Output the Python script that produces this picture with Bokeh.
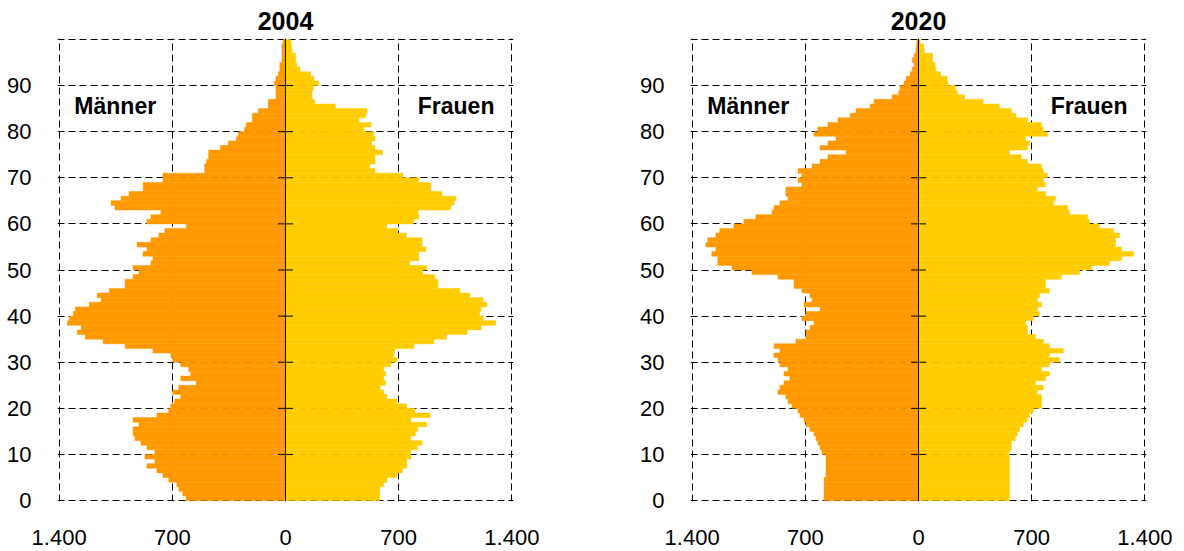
from bokeh.plotting import figure
from bokeh.layouts import row
from bokeh.models import FixedTicker, Span
from bokeh.core.properties import value
from bokeh.embed import file_html
from bokeh.resources import INLINE

ages = list(range(100))

men_2004 = [615, 635, 660, 672, 722, 758, 795, 857, 808, 869,
            808, 857, 894, 931, 943, 943, 906, 943, 795, 722,
            709, 685, 648, 697, 660, 552, 648, 586, 599, 648,
            697, 709, 820, 992, 1128, 1238, 1287, 1263, 1349, 1337,
            1312, 1300, 1214, 1140, 1164, 1090, 992, 992, 943, 906,
            943, 832, 820, 881, 857, 918, 832, 783, 746, 613,
            857, 832, 771, 1054, 1078, 1017, 968, 880, 880, 758,
            758, 500, 500, 488, 475, 475, 402, 353, 303, 291,
            254, 242, 205, 205, 168, 107, 107, 59, 59, 59,
            70, 59, 45, 35, 35, 22, 22, 22, 22, 15]

women_2004 = [582, 582, 582, 607, 627, 689, 722, 750, 750, 775,
              775, 816, 845, 775, 804, 816, 873, 775, 894, 800,
              750, 689, 627, 607, 586, 619, 607, 619, 607, 652,
              689, 668, 676, 795, 918, 996, 1123, 1210, 1300, 1222,
              1201, 1210, 1246, 1222, 1140, 1078, 943, 943, 922, 849,
              873, 767, 824, 824, 869, 845, 845, 746, 693, 627,
              791, 824, 820, 1021, 1041, 1054, 968, 898, 898, 824,
              726, 554, 521, 554, 554, 599, 554, 533, 554, 545,
              484, 529, 455, 496, 504, 308, 180, 164, 164, 172,
              205, 176, 156, 90, 70, 62, 62, 41, 37, 33]

men_2020 = [584, 584, 584, 584, 584, 572, 572, 572, 572, 572,
            597, 609, 622, 634, 646, 671, 696, 708, 733, 745,
            783, 807, 820, 869, 857, 832, 795, 832, 807, 857,
            869, 894, 857, 894, 758, 696, 696, 671, 646, 721,
            696, 609, 708, 659, 671, 721, 770, 770, 869, 1030,
            1154, 1241, 1241, 1278, 1253, 1315, 1303, 1253, 1229, 1142,
            1080, 1006, 906, 894, 857, 807, 820, 820, 721, 745,
            721, 745, 659, 609, 560, 448, 609, 560, 510, 646,
            622, 560, 498, 423, 386, 299, 275, 163, 122, 114,
            89, 76, 52, 39, 27, 39, 27, 14, 14, 10]

women_2020 = [562, 562, 562, 562, 562, 562, 562, 562, 562, 562,
              562, 574, 574, 599, 611, 624, 648, 673, 686, 710,
              760, 760, 760, 735, 772, 723, 785, 809, 760, 809,
              871, 809, 896, 809, 772, 723, 673, 673, 661, 710,
              748, 735, 760, 735, 748, 809, 785, 785, 884, 995,
              1070, 1181, 1255, 1330, 1255, 1218, 1218, 1243, 1206, 1119,
              1057, 1045, 933, 921, 834, 847, 785, 735, 785, 772,
              797, 772, 760, 673, 636, 562, 673, 686, 661, 797,
              772, 760, 673, 603, 574, 500, 400, 285, 240, 227,
              182, 177, 136, 107, 103, 87, 87, 35, 33, 10]

x_ticks = [-1400, -700, 0, 700, 1400]
x_tick_labels = {-1400: "1.400", -700: "700", 0: "0", 700: "700", 1400: "1.400"}
y_ticks = [0, 10, 20, 30, 40, 50, 60, 70, 80, 90]
grid_x = [-1400, -700, 700, 1400]
grid_y = [0, 10, 20, 30, 40, 50, 60, 70, 80, 90, 100]
side_labels = ["Männer", "Frauen"]
side_label_x = [-1053, 1055]
side_label_y = [85.5, 85.5]

MEN_COLOR = "#FF9900"
WOMEN_COLOR = "#FFCC00"
FONT = "Liberation Sans"


def pyramid(title, men, women, width, border_right):
    p = figure(width=width, height=550, x_range=(-1410, 1410), y_range=(-0.2, 100.2),
               output_backend="svg", toolbar_location=None,
               min_border_left=57, min_border_right=border_right,
               min_border_top=38, min_border_bottom=49)
    p.title.text = title
    p.title.align = "center"
    p.title.text_font = FONT
    p.title.text_font_size = "25px"
    p.title.text_font_style = "bold"
    p.title.text_color = "black"
    p.title.standoff = 18
    p.outline_line_color = None
    p.background_fill_color = "white"
    p.border_fill_color = "white"

    p.xgrid.ticker = FixedTicker(ticks=grid_x)
    p.ygrid.ticker = FixedTicker(ticks=grid_y)
    for g in (p.xgrid, p.ygrid):
        g.grid_line_color = "black"
        g.grid_line_dash = "7 4"
        g.grid_line_width = 1
        g.grid_line_alpha = 1

    p.xaxis.ticker = FixedTicker(ticks=x_ticks)
    p.xaxis.major_label_overrides = x_tick_labels
    p.yaxis.ticker = FixedTicker(ticks=y_ticks)
    for ax in (p.xaxis, p.yaxis):
        ax.axis_line_color = None
        ax.major_tick_line_color = None
        ax.minor_tick_line_color = None
        ax.major_label_text_font = FONT
        ax.major_label_text_font_size = "22px"
        ax.major_label_text_color = "black"
    p.xaxis.major_label_standoff = 22
    p.yaxis.major_label_standoff = 20

    yc = [a + 0.5 for a in ages]
    p.hbar(y=yc, height=1, left=[-m for m in men], right=0,
           fill_color=MEN_COLOR, line_color=MEN_COLOR, line_width=0.5)
    p.hbar(y=yc, height=1, left=0, right=women,
           fill_color=WOMEN_COLOR, line_color=WOMEN_COLOR, line_width=0.5)

    p.add_layout(Span(location=0, dimension="height", line_color="black",
                      line_width=1, level="overlay"))
    p.scatter(x=[0] * 9, y=y_ticks[1:], marker="dash", size=15,
              line_color="black", line_width=1)

    p.text(x=side_label_x, y=side_label_y, text=side_labels,
           text_font=value(FONT), text_font_style="bold", text_font_size="23px",
           text_align="center", text_baseline="middle", text_color="black")
    return p


p1 = pyramid("2004", men_2004, women_2004, 633, 120)
p2 = pyramid("2020", men_2020, women_2020, 543, 30)
layout = row(p1, p2)

open("out.html", "w").write(file_html(layout, INLINE))
